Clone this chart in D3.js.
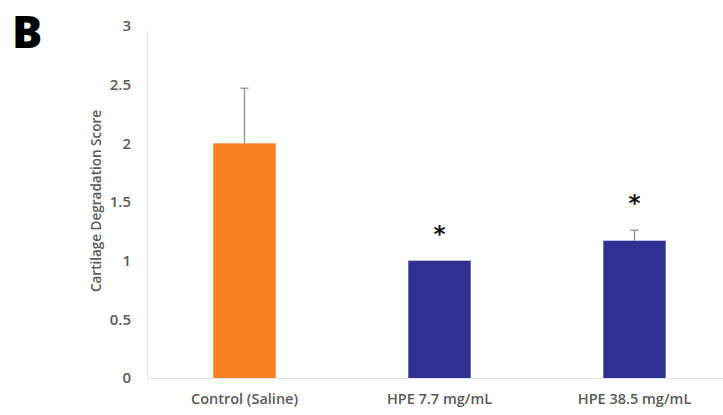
<!DOCTYPE html>
<html><head><meta charset="utf-8">
<script src="https://cdn.jsdelivr.net/npm/d3@7"></script>
<style>body{margin:0;background:#fff;}svg{display:block;font-family:"Open Sans",sans-serif;}</style>
</head><body>
<svg id="c" width="723" height="415"></svg>
<script>
const categories = ["Control (Saline)", "HPE 7.7 mg/mL", "HPE 38.5 mg/mL"];
const values = [2.0, 1.0, 1.17];
const errors = [0.47, 0.0, 0.09];
const significant = [false, true, true];
const barColors = ["#F5821F", "#2E3192", "#2E3192"];
const yTicks = [0, 0.5, 1, 1.5, 2, 2.5, 3];

(function () {
const svg = d3.select("#c");
const mLeft = 147, mRight = 732, mTop = 26, mBottom = 378;
const x = d3.scaleBand().domain(categories).range([mLeft, mRight]).paddingInner(0.68).paddingOuter(0.34);
const y = d3.scaleLinear().domain([0, 3]).range([mBottom, mTop]);

// axis lines
svg.append("line").attr("x1", mLeft).attr("x2", 723).attr("y1", mBottom + 0.5).attr("y2", mBottom + 0.5).attr("stroke", "#e3e3e3");
svg.append("line").attr("x1", mLeft + 0.5).attr("x2", mLeft + 0.5).attr("y1", y(3) + 5).attr("y2", mBottom).attr("stroke", "#e3e3e3");

// y ticks
const yAxis = svg.append("g").attr("transform", `translate(${mLeft},0)`)
  .call(d3.axisLeft(y).tickValues(yTicks).tickSize(0).tickPadding(16).tickFormat(d3.format("")));
yAxis.select(".domain").remove();
yAxis.selectAll("text").attr("font-size", 15).attr("font-weight", 600).attr("fill", "#595959").attr("font-family", "Open Sans, sans-serif");

// x labels
const xAxis = svg.append("g").attr("transform", `translate(0,${mBottom})`)
  .call(d3.axisBottom(x).tickSize(0).tickPadding(16));
xAxis.select(".domain").remove();
xAxis.selectAll("text").attr("font-size", 14.5).attr("font-weight", 600).attr("fill", "#595959").attr("font-family", "Open Sans, sans-serif");

// bars
svg.selectAll("rect.bar").data(categories).join("rect").attr("class", "bar")
  .attr("x", d => x(d)).attr("width", x.bandwidth())
  .attr("y", (d, i) => y(values[i])).attr("height", (d, i) => y(0) - y(values[i]))
  .attr("fill", (d, i) => barColors[i]);

// error bars (upper only)
categories.forEach((c, i) => {
  if (errors[i] <= 0) return;
  const cx = x(c) + x.bandwidth() / 2;
  svg.append("line").attr("x1", cx).attr("x2", cx).attr("y1", y(values[i])).attr("y2", y(values[i] + errors[i])).attr("stroke", "#8c8c8c").attr("stroke-width", 1.3);
  svg.append("line").attr("x1", cx - 4).attr("x2", cx + 4).attr("y1", y(values[i] + errors[i])).attr("y2", y(values[i] + errors[i])).attr("stroke", "#8c8c8c").attr("stroke-width", 1.3);
});

// significance stars
categories.forEach((c, i) => {
  if (!significant[i]) return;
  const cx = x(c) + x.bandwidth() / 2;
  svg.append("text").attr("x", cx).attr("y", y(values[i] + errors[i]) - 19)
    .attr("text-anchor", "middle").attr("font-size", 23).attr("font-weight", 700).attr("fill", "#111")
    .attr("font-family", "DejaVu Sans, sans-serif").text("*");
});

// y title
svg.append("text").attr("transform", "translate(101,201) rotate(-90)").attr("text-anchor", "middle")
  .attr("font-size", 13.5).attr("font-weight", 600).attr("fill", "#595959").text("Cartilage Degradation Score");

// panel label
svg.append("text").attr("x", 12).attr("y", 48).attr("font-size", 45).attr("font-weight", 800).attr("fill", "#000")
  .attr("font-family", "Open Sans, sans-serif").text("B");
})();
</script>
</body></html>
